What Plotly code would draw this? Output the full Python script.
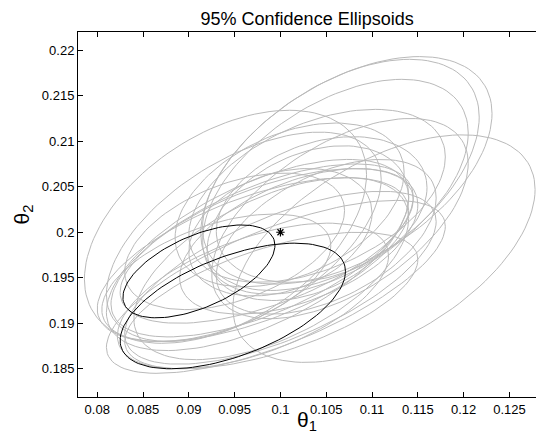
import numpy as np
import plotly.graph_objects as go

# Gray ellipses (estimates from Monte Carlo runs): centre, half-extents, correlation
gray_cx = [0.1113, 0.1073, 0.1060, 0.1040, 0.0940, 0.0960, 0.0975, 0.0980, 0.0970, 0.0985,
           0.0990, 0.0970, 0.0990, 0.1000, 0.1030, 0.1045, 0.1010, 0.0950, 0.1020, 0.0930,
           0.1050, 0.1065, 0.0995, 0.1000, 0.1065]
gray_cy = [0.1982, 0.2068, 0.2050, 0.2040, 0.2006, 0.1995, 0.1975, 0.1980, 0.1970, 0.1985,
           0.1960, 0.1930, 0.1925, 0.1950, 0.2010, 0.2025, 0.2030, 0.1990, 0.1990, 0.1950,
           0.1995, 0.2015, 0.1940, 0.2000, 0.2063]
gray_wx = [0.0165, 0.0158, 0.0145, 0.0140, 0.0154, 0.0150, 0.0165, 0.0165, 0.0170, 0.0160,
           0.0150, 0.0148, 0.0160, 0.0170, 0.0110, 0.0115, 0.0125, 0.0120, 0.0130, 0.0125,
           0.0120, 0.0140, 0.0185, 0.0100, 0.0152]
gray_wy = [0.0125, 0.0125, 0.0118, 0.0095, 0.0128, 0.0115, 0.0105, 0.0095, 0.0090, 0.0085,
           0.0100, 0.0080, 0.0075, 0.0095, 0.0085, 0.0080, 0.0090, 0.0075, 0.0080, 0.0070,
           0.0085, 0.0110, 0.0095, 0.0070, 0.0127]
gray_rho = [0.52, 0.50, 0.50, 0.45, 0.45, 0.55, 0.60, 0.62, 0.60, 0.60,
            0.55, 0.55, 0.60, 0.65, 0.35, 0.30, 0.40, 0.45, 0.50, 0.50,
            0.50, 0.55, 0.70, 0.30, 0.50]

# Black ellipses
black_cx = [0.0911, 0.0948]
black_cy = [0.1957, 0.1919]
black_wx = [0.0083, 0.0123]
black_wy = [0.0051, 0.0069]
black_rho = [0.56, 0.55]

# True parameter
true_theta1 = [0.1]
true_theta2 = [0.2]

x_ticks = [0.08, 0.085, 0.09, 0.095, 0.1, 0.105, 0.11, 0.115, 0.12, 0.125]
x_ticklabels = ["0.08", "0.085", "0.09", "0.095", "0.1", "0.105", "0.11", "0.115", "0.12", "0.125"]
y_ticks = [0.185, 0.19, 0.195, 0.2, 0.205, 0.21, 0.215, 0.22]
y_ticklabels = ["0.185", "0.19", "0.195", "0.2", "0.205", "0.21", "0.215", "0.22"]

t = np.linspace(0, 2 * np.pi, 121)


def ellipse(cx, cy, wx, wy, rho):
    x = cx + wx * np.cos(t)
    y = cy + wy * (rho * np.cos(t) + np.sqrt(1 - rho ** 2) * np.sin(t))
    return x, y


fig = go.Figure()
for i in range(len(gray_cx)):
    x, y = ellipse(gray_cx[i], gray_cy[i], gray_wx[i], gray_wy[i], gray_rho[i])
    fig.add_trace(go.Scatter(x=x, y=y, mode="lines",
                             line=dict(color="#bababa", width=1), hoverinfo="skip"))
for i in range(len(black_cx)):
    x, y = ellipse(black_cx[i], black_cy[i], black_wx[i], black_wy[i], black_rho[i])
    fig.add_trace(go.Scatter(x=x, y=y, mode="lines",
                             line=dict(color="black", width=1), hoverinfo="skip"))
fig.add_trace(go.Scatter(x=true_theta1, y=true_theta2, mode="markers",
                         marker=dict(symbol="asterisk-open", size=7, color="black",
                                     line=dict(color="black", width=1.2))))

font = "Liberation Sans, Arial, sans-serif"
fig.update_layout(
    width=536, height=434,
    margin=dict(l=78, r=0, t=32, b=37),
    paper_bgcolor="white", plot_bgcolor="white",
    showlegend=False,
    font=dict(family=font, size=13, color="black"),
    title=dict(text="95% Confidence Ellipsoids", x=0.573, xanchor="center",
               y=0.958, yanchor="middle", font=dict(size=18, family=font, color="black")),
)
fig.update_xaxes(
    range=[0.0779, 0.1279], tickvals=x_ticks, ticktext=x_ticklabels,
    ticks="inside", ticklen=5, tickcolor="black", showline=True, linecolor="black",
    linewidth=1, mirror="ticks", showgrid=False, zeroline=False,
    tickfont=dict(size=13, family=font),
    title=dict(text="θ<sub>1</sub>", font=dict(size=21, family=font), standoff=0),
)
fig.update_yaxes(
    range=[0.1819, 0.222], tickvals=y_ticks, ticktext=y_ticklabels,
    ticks="inside", ticklen=5, tickcolor="black", showline=True, linecolor="black",
    linewidth=1, mirror=False, showgrid=False, zeroline=False,
    tickfont=dict(size=13, family=font),
    title=dict(text="θ<sub>2</sub>", font=dict(size=21, family=font), standoff=6),
)

fig.write_html("out.html")
